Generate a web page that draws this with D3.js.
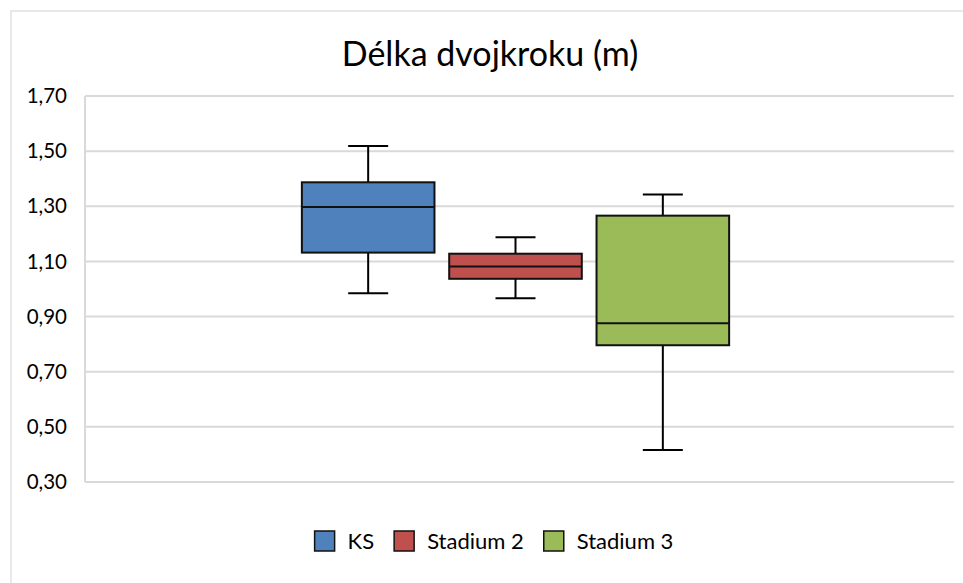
<!DOCTYPE html>
<html>
<head>
<meta charset="utf-8">
<script src="https://cdn.jsdelivr.net/npm/d3@7"></script>
<style>
  body { margin: 0; background: #fff; }
  text { font-family: Lato, "Open Sans", sans-serif; fill: #000; }
</style>
</head>
<body>
<svg id="chart" width="963" height="583"></svg>
<script>
// data
const series = ['KS', 'Stadium 2', 'Stadium 3'];
const mins = [0.985, 0.966, 0.416];
const q1s = [1.132, 1.037, 0.796];
const medians = [1.297, 1.082, 0.876];
const q3s = [1.387, 1.128, 1.266];
const maxs = [1.519, 1.188, 1.343];
const yTicks = [0.30, 0.50, 0.70, 0.90, 1.10, 1.30, 1.50, 1.70];
const colors = ['#4F81BD', '#C0504D', '#9BBB59'];

const svg = d3.select('#chart');
const plot = {left: 85, right: 954, top: 96, bottom: 482};

// chart frame (only left and top edges visible)
svg.append('rect').attr('x', 11).attr('y', 11).attr('width', 980).attr('height', 600)
  .style('fill', '#fff').style('stroke', '#d9d9d9').style('stroke-width', 1.2);

svg.append('text').text('Délka dvojkroku (m)')
  .attr('x', 490).attr('y', 66).attr('text-anchor', 'middle')
  .style('font-size', '34px');

const y = d3.scaleLinear().domain([0.30, 1.70]).range([plot.bottom, plot.top]);
const x = d3.scaleBand().domain(series).range([294.5, 736.5]).paddingInner(0.1).paddingOuter(0.05);

// gridlines
svg.append('g').selectAll('line').data(yTicks).join('line')
  .attr('x1', plot.left).attr('x2', plot.right)
  .attr('y1', d => y(d)).attr('y2', d => y(d))
  .style('stroke', '#d9d9d9').style('stroke-width', 2);

svg.append('line').attr('x1', plot.left).attr('x2', plot.left)
  .attr('y1', plot.top).attr('y2', plot.bottom)
  .style('stroke', '#d9d9d9').style('stroke-width', 2);

svg.append('g').selectAll('text').data(yTicks).join('text')
  .text(d => d3.format('.2f')(d).replace('.', ','))
  .attr('x', 67).attr('y', d => y(d)).attr('dy', '0.35em')
  .attr('text-anchor', 'end').style('font-size', '20.5px');

// boxes
const boxes = svg.append('g').selectAll('g').data(series).join('g');
const capW = 40;
boxes.each(function(s, i) {
  const g = d3.select(this);
  const cx = x(s) + x.bandwidth() / 2;
  g.append('line').attr('x1', cx).attr('x2', cx).attr('y1', y(maxs[i])).attr('y2', y(q3s[i]))
    .style('stroke', '#000').style('stroke-width', 2);
  g.append('line').attr('x1', cx).attr('x2', cx).attr('y1', y(q1s[i])).attr('y2', y(mins[i]))
    .style('stroke', '#000').style('stroke-width', 2);
  g.append('line').attr('x1', cx - capW / 2).attr('x2', cx + capW / 2).attr('y1', y(maxs[i])).attr('y2', y(maxs[i]))
    .style('stroke', '#000').style('stroke-width', 2);
  g.append('line').attr('x1', cx - capW / 2).attr('x2', cx + capW / 2).attr('y1', y(mins[i])).attr('y2', y(mins[i]))
    .style('stroke', '#000').style('stroke-width', 2);
  g.append('rect').attr('x', x(s)).attr('width', x.bandwidth())
    .attr('y', y(q3s[i])).attr('height', y(q1s[i]) - y(q3s[i]))
    .style('fill', colors[i]).style('stroke', '#111').style('stroke-width', 2);
  g.append('line').attr('x1', x(s)).attr('x2', x(s) + x.bandwidth())
    .attr('y1', y(medians[i])).attr('y2', y(medians[i]))
    .style('stroke', '#111').style('stroke-width', 2);
});

// legend
const legend = svg.append('g');
const items = legend.selectAll('g').data(series).join('g');
items.append('rect').attr('width', 20).attr('height', 20).attr('y', 531)
  .style('fill', (d, i) => colors[i]).style('stroke', '#111').style('stroke-width', 1.5);
items.append('text').text(d => d).attr('x', 33).attr('y', 549).style('font-size', '22px');
let pos = 0;
items.each(function() {
  const w = 33 + this.querySelector('text').getComputedTextLength();
  d3.select(this).attr('transform', 'translate(' + pos + ',0)');
  pos += w + 20;
});
legend.attr('transform', 'translate(' + (494 - (pos - 20) / 2) + ',0)');
</script>
</body>
</html>
